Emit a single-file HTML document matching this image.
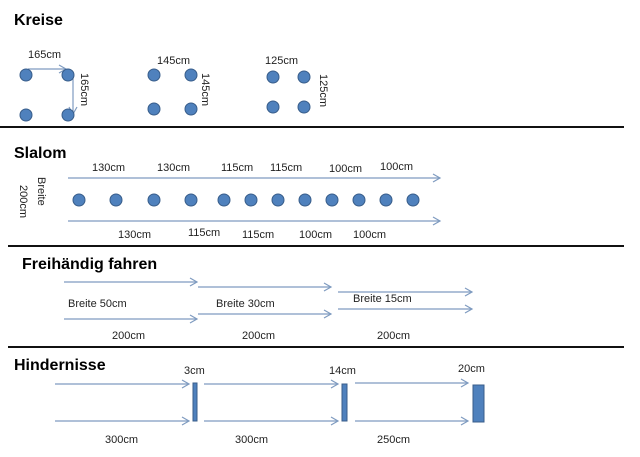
<!DOCTYPE html>
<html><head><meta charset="utf-8"><style>
html,body{margin:0;padding:0;background:#fff;}
svg{display:block;}
text{font-family:"Liberation Sans",sans-serif;font-size:11px;fill:#222;}
.t{font-weight:bold;font-size:16px;fill:#000;}
.c{fill:#4f81bd;stroke:#385d8a;stroke-width:1;}
.a{stroke:#7f9bc0;stroke-width:1.2;fill:none;}
.h{stroke:#111;stroke-width:2;}
</style></head><body>
<svg width="640" height="457" viewBox="0 0 640 457" xmlns="http://www.w3.org/2000/svg">
<defs><marker id="m" markerWidth="10" markerHeight="10" refX="8" refY="5" orient="auto" markerUnits="userSpaceOnUse"><path d="M1,1 L8,5 L1,9" fill="none" stroke="#7f9bc0" stroke-width="1.2"/></marker></defs>
<line class="h" x1="0" y1="127" x2="624" y2="127"/>
<line class="h" x1="8" y1="246" x2="624" y2="246"/>
<line class="h" x1="8" y1="347" x2="624" y2="347"/>

<text class="t" x="14" y="25">Kreise</text>
<text x="28" y="58">165cm</text>
<path class="a" d="M28,69 L66,69" marker-end="url(#m)"/>
<path class="a" d="M73,75 L73,114" marker-end="url(#m)"/>
<circle class="c" cx="26" cy="75" r="6"/><circle class="c" cx="68" cy="75" r="6"/>
<circle class="c" cx="26" cy="115" r="6"/><circle class="c" cx="68" cy="115" r="6"/>
<text transform="translate(81,73) rotate(90)">165cm</text>
<text x="157" y="64">145cm</text>
<circle class="c" cx="154" cy="75" r="6"/><circle class="c" cx="191" cy="75" r="6"/>
<circle class="c" cx="154" cy="109" r="6"/><circle class="c" cx="191" cy="109" r="6"/>
<text transform="translate(202,73) rotate(90)">145cm</text>
<text x="265" y="64">125cm</text>
<circle class="c" cx="273" cy="77" r="6"/><circle class="c" cx="304" cy="77" r="6"/>
<circle class="c" cx="273" cy="107" r="6"/><circle class="c" cx="304" cy="107" r="6"/>
<text transform="translate(320,74) rotate(90)">125cm</text>

<text class="t" x="14" y="158">Slalom</text>
<path class="a" d="M68,178 L440,178" marker-end="url(#m)"/>
<path class="a" d="M68,221 L440,221" marker-end="url(#m)"/>
<text x="92" y="171">130cm</text><text x="157" y="171">130cm</text><text x="221" y="171">115cm</text>
<text x="270" y="171">115cm</text><text x="329" y="172">100cm</text><text x="380" y="170">100cm</text>
<text x="118" y="238">130cm</text><text x="188" y="236">115cm</text><text x="242" y="238">115cm</text>
<text x="299" y="238">100cm</text><text x="353" y="238">100cm</text>
<text transform="translate(38,177) rotate(90)">Breite</text>
<text transform="translate(20,185) rotate(90)">200cm</text>
<circle class="c" cx="79" cy="200" r="6"/><circle class="c" cx="116" cy="200" r="6"/>
<circle class="c" cx="154" cy="200" r="6"/><circle class="c" cx="191" cy="200" r="6"/>
<circle class="c" cx="224" cy="200" r="6"/><circle class="c" cx="251" cy="200" r="6"/>
<circle class="c" cx="278" cy="200" r="6"/><circle class="c" cx="305" cy="200" r="6"/>
<circle class="c" cx="332" cy="200" r="6"/><circle class="c" cx="359" cy="200" r="6"/>
<circle class="c" cx="386" cy="200" r="6"/><circle class="c" cx="413" cy="200" r="6"/>

<text class="t" x="22" y="269">Freihändig fahren</text>
<path class="a" d="M64,282 L197,282" marker-end="url(#m)"/>
<path class="a" d="M64,319 L197,319" marker-end="url(#m)"/>
<path class="a" d="M198,287 L331,287" marker-end="url(#m)"/>
<path class="a" d="M198,314 L331,314" marker-end="url(#m)"/>
<path class="a" d="M338,292 L472,292" marker-end="url(#m)"/>
<path class="a" d="M338,309 L472,309" marker-end="url(#m)"/>
<text x="68" y="307">Breite 50cm</text><text x="216" y="307">Breite 30cm</text><text x="353" y="302">Breite 15cm</text>
<text x="112" y="339">200cm</text><text x="242" y="339">200cm</text><text x="377" y="339">200cm</text>

<text class="t" x="14" y="370">Hindernisse</text>
<path class="a" d="M55,384 L189,384" marker-end="url(#m)"/>
<path class="a" d="M55,421 L189,421" marker-end="url(#m)"/>
<path class="a" d="M204,384 L338,384" marker-end="url(#m)"/>
<path class="a" d="M204,421 L338,421" marker-end="url(#m)"/>
<path class="a" d="M355,383 L468,383" marker-end="url(#m)"/>
<path class="a" d="M355,421 L468,421" marker-end="url(#m)"/>
<rect x="193" y="383" width="4" height="38" fill="#4f81bd" stroke="#385d8a"/>
<rect x="342" y="384" width="5" height="37" fill="#4f81bd" stroke="#385d8a"/>
<rect x="473" y="385" width="11" height="37" fill="#4f81bd" stroke="#385d8a"/>
<text x="184" y="374">3cm</text><text x="329" y="374">14cm</text><text x="458" y="372">20cm</text>
<text x="105" y="443">300cm</text><text x="235" y="443">300cm</text><text x="377" y="443">250cm</text>
</svg>
</body></html>
